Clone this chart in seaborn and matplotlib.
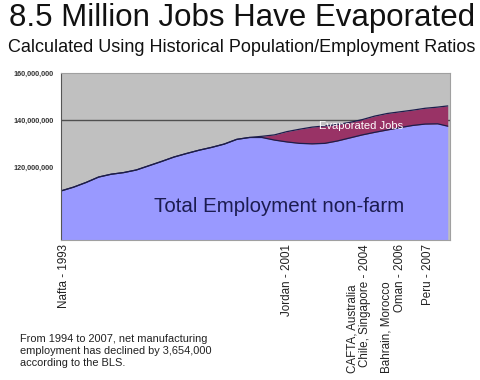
import numpy as np
import pandas as pd
import seaborn as sns
import matplotlib.pyplot as plt

# Data (millions of jobs)
years = [1993.0, 1993.5, 1994.0, 1994.5, 1995.0, 1995.5, 1996.0, 1996.5,
         1997.0, 1997.5, 1998.0, 1998.5, 1999.0, 1999.5, 2000.0, 2000.5,
         2001.0, 2001.5, 2002.0, 2002.5, 2003.0, 2003.5, 2004.0, 2004.5,
         2005.0, 2005.5, 2006.0, 2006.5, 2007.0, 2007.5, 2008.0, 2008.4]
employment = [109.9, 111.5, 113.5, 115.8, 117.0, 117.7, 118.8, 120.6,
              122.4, 124.3, 125.8, 127.2, 128.4, 129.8, 131.8, 132.6,
              132.6, 131.5, 130.7, 130.1, 129.9, 130.1, 131.1, 132.4,
              133.7, 134.8, 135.8, 136.8, 137.7, 138.3, 138.4, 137.4]
# employment at the historical population/employment ratio
trend = [109.9, 111.5, 113.5, 115.8, 117.0, 117.7, 118.8, 120.6,
         122.4, 124.3, 125.8, 127.2, 128.4, 129.8, 131.8, 132.6,
         133.1, 133.7, 135.1, 136.1, 137.0, 137.5, 138.1, 139.0,
         140.2, 141.7, 142.8, 143.5, 144.2, 145.0, 145.5, 146.0]

# trade agreements (tick labels); the two long ones get a second line
trade_pos = [1993.12, 2001.99, 2005.11, 2006.50, 2007.62]
trade_labels = ["Nafta - 1993", "Jordan - 2001", "Chile, Singapore - 2004",
                "Oman - 2006", "Peru - 2007"]
extra_pos = [2004.59, 2005.98]
extra_labels = ["CAFTA, Australia", "Bahrain, Morocco"]
ytick_vals = [95e6, 120e6, 140e6, 160e6]
ytick_labels = ["", "120,000,000", "140,000,000", "160,000,000"]

df = pd.DataFrame({"year": years,
                   "employment": np.array(employment) * 1e6,
                   "trend": np.array(trend) * 1e6})

sns.set_style("white")
plt.rcParams['font.family'] = ['Liberation Sans', 'DejaVu Sans']

fig = plt.figure(figsize=(4.8, 3.8), dpi=100)
ax = fig.add_axes([0.127, 0.368, 0.811, 0.440])
ax.set_facecolor("#c0c0c0")

ax.axhline(140e6, color="#505050", lw=1, zorder=0.5)
ax.fill_between(df["year"], 0, df["employment"], color="#9999ff", lw=0, zorder=1)
ax.fill_between(df["year"], df["employment"], df["trend"], color="#993366", lw=0, zorder=1)
sns.lineplot(data=df, x="year", y="trend", color="#1c1c4c", lw=0.9, ax=ax, zorder=2)
sns.lineplot(data=df, x="year", y="employment", color="#1c1c4c", lw=0.9, ax=ax, zorder=2)

ax.set_xlim(1993.0, 2008.5)
ax.set_ylim(89e6, 160e6)
ax.set_yticks(ytick_vals)
ax.set_yticklabels(ytick_labels, fontsize=5.2, fontweight="bold", color="#333333")
ax.set_xticks(trade_pos)
ax.set_xticklabels(trade_labels, rotation=90, fontsize=8.4, color="#222222")
ax.tick_params(axis="y", length=3, width=0.8, color="#555555", pad=2)
ax.tick_params(axis="x", length=0, pad=3)
ax.set_xlabel("")
ax.set_ylabel("")
for side in ["top", "right", "bottom"]:
    ax.spines[side].set_color("#a0a0a0")
    ax.spines[side].set_linewidth(0.8)
ax.spines["left"].set_color("#555555")
ax.spines["left"].set_linewidth(0.8)

# first lines of the two-line labels, hanging lower than the second line
for xp, lab in zip(extra_pos, extra_labels):
    ax.text(xp, -0.795, lab, transform=ax.get_xaxis_transform(), rotation=90,
            ha="center", va="bottom", fontsize=8.4, color="#222222")

ax.text(2004.95, 137.6e6, "Evaporated Jobs", color="white", fontsize=8, ha="center", va="center", zorder=3)
ax.text(1996.7, 103.2e6, "Total Employment non-farm", color="#1c1c50", fontsize=14.8, ha="left", va="center", zorder=3)

fig.text(0.505, 0.952, "8.5 Million Jobs Have Evaporated", fontsize=22.5, ha="center", va="center", color="#111111")
fig.text(0.503, 0.874, "Calculated Using Historical Population/Employment Ratios", fontsize=13, ha="center", va="center", color="#111111")
fig.text(0.042, 0.122, "From 1994 to 2007, net manufacturing\nemployment has declined by 3,654,000\naccording to the BLS.",
         fontsize=7.9, ha="left", va="top", color="#222222", linespacing=1.25)

fig.savefig("out.png", dpi=100)
